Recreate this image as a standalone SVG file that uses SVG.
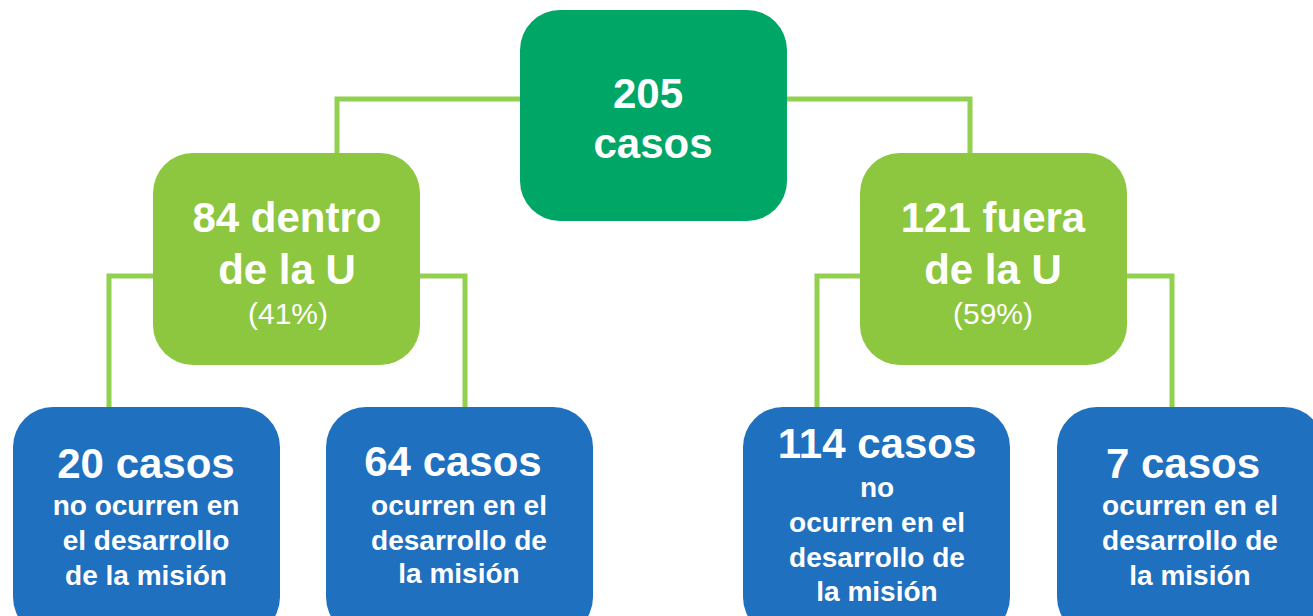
<svg xmlns="http://www.w3.org/2000/svg" width="1313" height="616" viewBox="0 0 1313 616">
<style>
.t{font-family:"Liberation Sans",Arial,sans-serif;fill:#fff;text-anchor:middle}
.b{font-weight:bold}
.big{font-size:42px}
.sm{font-size:28px}
.pc{font-size:30px}
.con{fill:none;stroke:#92D050;stroke-width:5}
</style>
<rect width="1313" height="616" fill="#fff"/>
<g id="connectors">
<path class="con" d="M520,99 H337 V153"/>
<path class="con" d="M787,99 H970 V153"/>
<path class="con" d="M153,276 H109 V407"/>
<path class="con" d="M420,276 H465 V407"/>
<path class="con" d="M860,276 H817 V407"/>
<path class="con" d="M1127,276 H1172 V407"/>
</g>
<g id="n205">
<rect x="520" y="10" width="267" height="211" rx="40" fill="#00A665"/>
<text class="t b big" x="648" y="108">205</text>
<text class="t b big" x="653" y="158">casos</text>
</g>
<g id="n84">
<rect x="153" y="153" width="267" height="212" rx="40" fill="#8DC63F"/>
<text class="t b big" x="287" y="232">84 dentro</text>
<text class="t b big" x="287" y="284">de la U</text>
<text class="t pc" x="288" y="324">(41%)</text>
</g>
<g id="n121">
<rect x="860" y="153" width="267" height="212" rx="40" fill="#8DC63F"/>
<text class="t b big" x="993" y="232">121 fuera</text>
<text class="t b big" x="993" y="284">de la U</text>
<text class="t pc" x="993" y="324">(59%)</text>
</g>
<g id="n20">
<rect x="13" y="407" width="267" height="230" rx="40" fill="#1F70BF"/>
<text class="t b big" x="146" y="478">20 casos</text>
<text class="t b sm" x="146" y="515">no ocurren en</text>
<text class="t b sm" x="146" y="550">el desarrollo</text>
<text class="t b sm" x="146" y="585">de la misión</text>
</g>
<g id="n64">
<rect x="326" y="407" width="267" height="230" rx="40" fill="#1F70BF"/>
<text class="t b big" x="453" y="476">64 casos</text>
<text class="t b sm" x="459" y="515">ocurren en el</text>
<text class="t b sm" x="459" y="550">desarrollo de</text>
<text class="t b sm" x="459" y="583">la misión</text>
</g>
<g id="n114">
<rect x="743" y="407" width="267" height="230" rx="40" fill="#1F70BF"/>
<text class="t b big" x="877" y="458">114 casos</text>
<text class="t b sm" x="877" y="497">no</text>
<text class="t b sm" x="877" y="532">ocurren en el</text>
<text class="t b sm" x="877" y="567">desarrollo de</text>
<text class="t b sm" x="877" y="601">la misión</text>
</g>
<g id="n7">
<rect x="1057" y="407" width="267" height="230" rx="40" fill="#1F70BF"/>
<text class="t b big" x="1183" y="478">7 casos</text>
<text class="t b sm" x="1190" y="515">ocurren en el</text>
<text class="t b sm" x="1190" y="550">desarrollo de</text>
<text class="t b sm" x="1190" y="585">la misión</text>
</g>
</svg>
